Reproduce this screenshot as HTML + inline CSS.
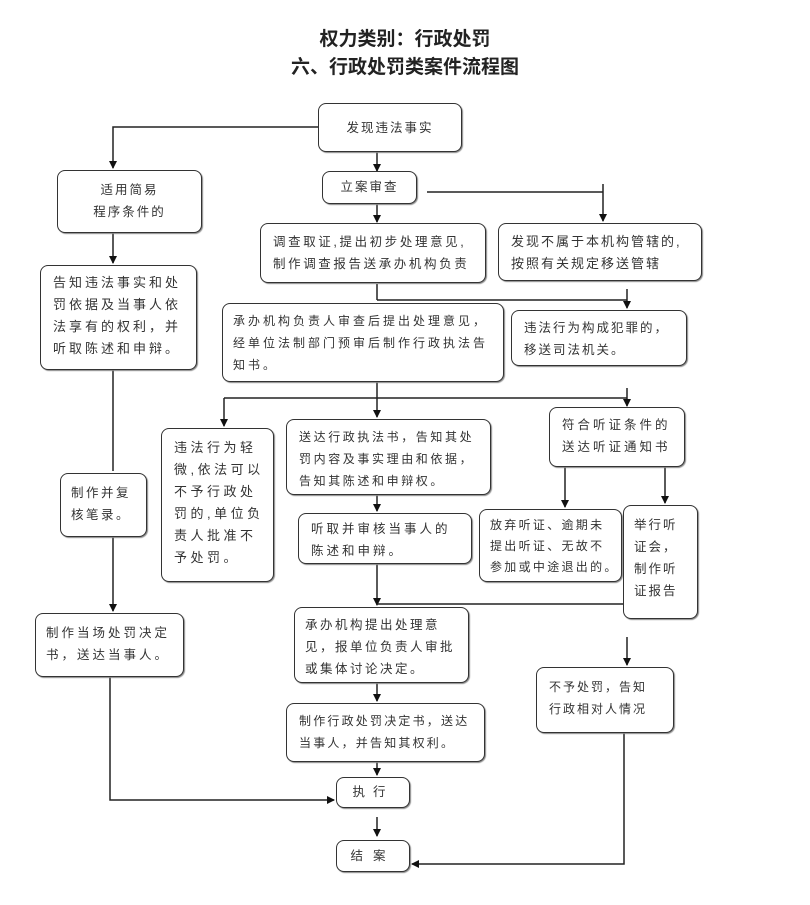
<!DOCTYPE html>
<html><head><meta charset="utf-8"><style>
body{margin:0;width:810px;height:905px;background:#fff;position:relative;overflow:hidden;font-family:"Liberation Sans","Noto Sans CJK SC",sans-serif;color:#222}
.t{position:absolute;left:0;width:810px;text-align:center;font-weight:bold;font-size:19px}
.b{position:absolute;box-sizing:border-box;border:1.5px solid #333;border-radius:8px;box-shadow:1px 1px 1px #888;background:#fff;font-size:12.5px;line-height:24px;padding:6px 10px;letter-spacing:2px;white-space:nowrap;color:#333}
svg{position:absolute;left:0;top:0}
</style></head><body>
<div class="t" style="top:24px">权力类别：行政处罚</div>
<div class="t" style="top:52px">六、行政处罚类案件流程图</div>
<svg width="810" height="905">
<defs><marker id="a" markerWidth="8" markerHeight="8" refX="7" refY="4" orient="auto" markerUnits="userSpaceOnUse"><path d="M0,0L8,4L0,8z" fill="#111"/></marker></defs>
<g stroke="#222" stroke-width="1.5" fill="none">
<path d="M318,127H113V168" marker-end="url(#a)"/>
<path d="M377,152V171" marker-end="url(#a)"/>
<path d="M427,192H603"/><path d="M603,184V221" marker-end="url(#a)"/>
<path d="M377,204V222" marker-end="url(#a)"/>
<path d="M113,233V263" marker-end="url(#a)"/>
<path d="M377,284V300"/><path d="M377,300H627"/><path d="M627,289V308" marker-end="url(#a)"/>
<path d="M113,370V471"/><path d="M113,537V611" marker-end="url(#a)"/>
<path d="M377,382V417" marker-end="url(#a)"/>
<path d="M224,398H627"/><path d="M224,398V426" marker-end="url(#a)"/>
<path d="M627,388V406" marker-end="url(#a)"/>
<path d="M377,495V511" marker-end="url(#a)"/>
<path d="M565,467V507" marker-end="url(#a)"/>
<path d="M665,467V503" marker-end="url(#a)"/>
<path d="M377,564V605" marker-end="url(#a)"/>
<path d="M377,604H623"/>
<path d="M627,637V665" marker-end="url(#a)"/>
<path d="M377,683V701" marker-end="url(#a)"/>
<path d="M377,762V775" marker-end="url(#a)"/>
<path d="M110,677V800H334" marker-end="url(#a)"/>
<path d="M377,817V836" marker-end="url(#a)"/>
<path d="M624,733V864H412" marker-end="url(#a)"/>
</g></svg>
<div class="b" style="left:318px;top:103px;width:144px;height:49px;text-align:center;line-height:36px">发现违法事实</div>
<div class="b" style="left:57px;top:170px;width:145px;height:63px;text-align:center;line-height:22px;padding-top:8px">适用简易<br>程序条件的</div>
<div class="b" style="left:322px;top:171px;width:95px;height:33px;text-align:center;line-height:20px;padding:5px 0">立案审查</div>
<div class="b" style="left:260px;top:223px;width:226px;height:60px;line-height:22px;padding:7px 12px;font-size:12.5px;letter-spacing:2.6px">调查取证,提出初步处理意见,<br>制作调查报告送承办机构负责</div>
<div class="b" style="left:498px;top:223px;width:204px;height:58px;line-height:22px;padding:7px 12px;font-size:13px;letter-spacing:2px">发现不属于本机构管辖的,<br>按照有关规定移送管辖</div>
<div class="b" style="left:40px;top:265px;width:157px;height:105px;line-height:22px;padding:6px 12px;font-size:13px;letter-spacing:3px">告知违法事实和处<br>罚依据及当事人依<br>法享有的权利，并<br>听取陈述和申辩。</div>
<div class="b" style="left:222px;top:303px;width:282px;height:79px;line-height:22px;padding:6px 10px;font-size:12px;letter-spacing:3px">承办机构负责人审查后提出处理意见，<br>经单位法制部门预审后制作行政执法告<br>知书。</div>
<div class="b" style="left:511px;top:310px;width:176px;height:56px;line-height:22px;padding:6px 12px;font-size:12.5px;letter-spacing:2px">违法行为构成犯罪的，<br>移送司法机关。</div>
<div class="b" style="left:549px;top:407px;width:136px;height:60px;line-height:22px;padding:6px 12px;letter-spacing:3px">符合听证条件的<br>送达听证通知书</div>
<div class="b" style="left:161px;top:428px;width:113px;height:154px;line-height:22px;padding:8px 12px;font-size:13px;letter-spacing:3.5px">违法行为轻<br>微,依法可以<br>不予行政处<br>罚的,单位负<br>责人批准不<br>予处罚。</div>
<div class="b" style="left:286px;top:419px;width:205px;height:76px;line-height:22px;padding:6px 12px;font-size:12px;letter-spacing:2.6px">送达行政执法书，告知其处<br>罚内容及事实理由和依据，<br>告知其陈述和申辩权。</div>
<div class="b" style="left:60px;top:473px;width:87px;height:64px;line-height:22px;padding:8px 10px;letter-spacing:2.5px">制作并复<br>核笔录。</div>
<div class="b" style="left:298px;top:513px;width:174px;height:51px;line-height:22px;padding:4px 12px;letter-spacing:3px">听取并审核当事人的<br>陈述和申辩。</div>
<div class="b" style="left:479px;top:509px;width:143px;height:73px;line-height:21px;padding:5px 10px;font-size:12px;letter-spacing:2.3px">放弃听证、逾期未<br>提出听证、无故不<br>参加或中途退出的。</div>
<div class="b" style="left:623px;top:505px;width:75px;height:114px;line-height:22px;padding:8px 10px;letter-spacing:2px">举行听<br>证会，<br>制作听<br>证报告</div>
<div class="b" style="left:35px;top:613px;width:149px;height:64px;line-height:22px;padding:8px 10px;letter-spacing:3px">制作当场处罚决定<br>书，送达当事人。</div>
<div class="b" style="left:294px;top:607px;width:175px;height:76px;line-height:22px;padding:6px 10px;letter-spacing:2.5px">承办机构提出处理意<br>见，报单位负责人审批<br>或集体讨论决定。</div>
<div class="b" style="left:536px;top:667px;width:138px;height:66px;line-height:22px;padding:8px 12px;font-size:12px;letter-spacing:2px">不予处罚，告知<br>行政相对人情况</div>
<div class="b" style="left:286px;top:703px;width:199px;height:59px;line-height:22px;padding:6px 12px;font-size:12px;letter-spacing:2.2px">制作行政处罚决定书，送达<br>当事人，并告知其权利。</div>
<div class="b" style="left:336px;top:777px;width:74px;height:31px;text-align:center;line-height:18px;padding:5px 0;letter-spacing:8px">执行</div>
<div class="b" style="left:336px;top:840px;width:74px;height:32px;text-align:center;line-height:18px;padding:6px 0;letter-spacing:10px">结案</div>
</body></html>
